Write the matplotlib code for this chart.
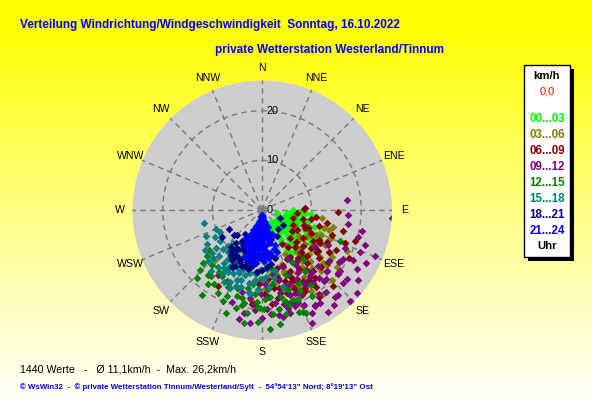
import numpy as np
import matplotlib
matplotlib.use("Agg")
import matplotlib.pyplot as plt
from matplotlib.patches import Rectangle

plt.rcParams['font.family'] = ['Liberation Sans', 'DejaVu Sans']

# ---------------- data ----------------
title_main = "Verteilung Windrichtung/Windgeschwindigkeit  Sonntag, 16.10.2022"
title_sub = "private Wetterstation Westerland/Tinnum"
footer_stats = "1440 Werte   -   Ø 11,1km/h  -  Max. 26,2km/h"
footer_copy = "© WsWin32  -  © private Wetterstation Tinnum/Westerland/Sylt  -  54°54'13\" Nord; 8°19'13\" Ost"

compass_labels = ["N", "NNE", "NE", "ENE", "E", "ESE", "SE", "SSE",
                  "S", "SSW", "SW", "WSW", "W", "WNW", "NW", "NNW"]
ring_values = [0, 10, 20]
r_max = 26.2

group_labels = ["00...03", "03...06", "06...09", "09...12",
                "12...15", "15...18", "18...21", "21...24"]
group_colors = ["#00FF00", "#808000", "#800000", "#800080",
                "#008000", "#008080", "#000080", "#0000FF"]

dir_00_03 = [90, 97, 109, 115, 121, 94, 102, 94, 100, 110, 120, 130, 140, 105, 115, 125, 135, 145, 150,
             100, 110, 118, 128, 138, 148, 125, 132, 117, 140, 155, 160, 108, 95, 112, 142, 160, 128,
             105, 113, 122, 133, 98, 118, 127, 137, 104, 145, 111, 124,
             98, 106, 114, 122, 131, 139, 147, 104, 116, 126, 136, 144, 120, 130, 112, 100, 93, 150, 165, 170]
spd_00_03 = [6.3, 8.3, 7.5, 9.6, 10.9, 6.3, 4.8, 8.7, 3, 3.5, 4, 3.5, 4.5, 5.5, 6, 6.5, 7, 6, 7.5,
             7, 9, 8, 8.5, 9, 9.5, 10, 11, 13.2, 12, 5, 8, 11, 10, 12.5, 3, 4, 5,
             6.8, 7.2, 7.8, 5.8, 5.5, 10.2, 4.5, 8, 9.5, 10.5, 5, 11.8,
             5, 6.5, 5, 5.5, 6, 5.5, 7, 8, 10, 7.5, 8, 10.5, 12, 9.5, 7, 5.8, 7.5, 4, 6, 9]

dir_03_06 = [97.5, 103.5, 107, 116, 122, 123, 131, 111.5, 130, 137, 156, 167, 187, 158, 158, 223,
             110, 115, 118, 125, 128, 133, 140, 145, 148, 150, 153, 160, 163, 170, 175, 140, 135,
             126, 120, 112, 145, 155, 165, 138, 143, 150, 128, 120, 160,
             113, 119, 124, 129, 134, 139, 146, 151, 154, 161, 166, 172, 178, 182, 142, 136, 131,
             117, 106, 149, 157, 163, 127, 144]
spd_03_06 = [12.2, 14.7, 14.1, 19, 16.2, 12.8, 16.3, 18, 17.2, 14.3, 13.7, 13.4, 18.3, 14.1, 19.2, 13.8,
             10, 12, 8, 9, 11, 13, 11, 14, 16, 12, 10, 11.5, 16, 15, 12, 18, 20,
             14, 10.5, 15, 8.5, 16.5, 10, 12, 15.5, 17.5, 13.5, 13, 13,
             13, 14.5, 17, 15, 11, 15.5, 12.5, 14.5, 17.5, 13.5, 17, 13, 16, 14, 13, 17, 9.5,
             11, 13, 19, 21, 19.5, 19, 21]

dir_06_09 = [89, 91.5, 104.5, 108.5, 101, 110, 87, 97, 210, 120, 115, 118, 122, 125, 128, 130, 133,
             136, 138, 140, 143, 145, 148, 150, 153, 155, 158, 162, 165, 168, 112, 106, 100, 95, 105,
             115, 125, 135, 145, 150, 170, 175, 160, 147, 130, 118, 123, 140, 133, 127, 137, 142, 152,
             157, 120, 113, 148,
             111, 116, 121, 126, 131, 134, 139, 144, 149, 151, 156, 159, 163, 167, 171, 174, 178, 182,
             186, 109, 103, 119, 128, 137, 146]
spd_06_09 = [8.5, 15.3, 16.9, 19.8, 13.4, 15, 8.7, 11, 17.6, 8.1, 11, 13, 16, 10, 12.5, 15, 18,
             13, 10, 16, 12, 19, 14, 16.5, 11, 13.5, 17, 15, 12, 16, 18, 12, 10, 7, 6.5,
             7, 7.5, 8, 9, 8, 18, 14, 20, 21, 20, 17, 19, 14, 9.5, 14, 11.5, 17.5, 18.5,
             15.5, 13.5, 9.5, 12.5,
             10, 14.5, 12, 14, 11, 16.5, 12.5, 15, 11, 18, 15, 12, 17.5, 14, 16, 19, 17, 15,
             19, 9, 8.5, 20, 17, 21, 17]

dir_09_12 = [83, 93.5, 93, 99, 106, 109, 113, 114.6, 119, 121, 124, 102, 136, 128, 151, 171, 165, 198,
             214, 131, 136, 130, 151, 165, 175, 180, 184, 145, 150, 155, 160, 148, 152, 158, 162, 140,
             142, 135, 138, 146, 168, 172, 176, 156, 132, 127, 118, 125, 160, 166, 154, 143, 188, 178,
             170, 149, 153, 157, 163, 144, 139, 159, 147,
             150, 154, 158, 161, 164, 167, 169, 173, 177, 181, 185, 190, 194, 145, 141, 137, 133, 129,
             126, 122, 117, 112, 140, 148, 147, 192, 186, 156]
spd_09_12 = [17.3, 26.2, 17.4, 17.6, 20.1, 21.9, 21.5, 18.4, 20.9, 19.1, 18.8, 20.7, 25.4, 20, 21.9, 21.4, 20.4, 19.5,
             15.8, 25.5, 25.7, 19.9, 22.1, 21.5, 21, 21.8, 20.2, 15, 17, 19, 16, 13, 11, 14, 18, 18,
             21, 16, 23, 20.5, 17, 19, 17.5, 21, 22, 17, 15, 13, 12, 14.5, 23, 24, 18, 15,
             13, 17.5, 15.5, 18, 19.5, 16.5, 19, 20, 12.5,
             14.5, 16, 18, 20.5, 16, 19.5, 22, 15.5, 20, 17, 19, 21, 17, 18, 16, 19, 18, 22,
             24, 22.5, 23.5, 24.5, 23, 22, 24.5, 22.5, 23, 25]

dir_12_15 = [226, 218, 215, 202, 193, 181, 171, 158, 164, 204, 196, 179, 170, 160, 157, 161, 112, 210,
             200, 190, 185, 175, 168, 165, 172, 180, 155, 150, 145, 160, 188, 195, 208, 213, 222, 230,
             150, 140, 170, 186, 176, 183, 198, 205, 166, 192,
             178, 183, 187, 191, 197, 203, 206, 211, 216, 220, 224, 174, 167, 162, 153, 147, 189, 199,
             176, 182, 158, 228, 233, 215]
spd_12_15 = [17.3, 16.8, 15.2, 18.6, 18.2, 19.8, 23.2, 22.2, 19.9, 17, 18, 20, 20.3, 21.9, 22.5, 19.2, 16.9, 14,
             15, 16, 17, 17.5, 18, 16, 15, 14, 18, 20, 15, 14, 21, 20.5, 19, 17.8, 15, 14.5,
             12, 13, 12, 12.5, 16, 18.5, 16.5, 16, 19, 19.5,
             18, 19.5, 15, 19, 16.5, 20, 16, 15.5, 18.5, 17, 19, 21, 21.5, 17, 16.5, 18, 23, 22,
             24, 22.5, 19.5, 16, 13.5, 21]

dir_15_18 = [257, 229, 226, 221, 225, 215, 210, 205, 200, 195, 190, 185, 180, 175, 205, 198, 212, 218,
             200, 190, 185, 195, 210, 175, 170, 165, 220, 230, 235, 240, 245, 188, 202, 215, 208, 183,
             195, 178, 192, 206, 186, 200, 214, 196, 181, 209,
             191, 197, 201, 204, 207, 211, 216, 219, 223, 227, 233, 238, 242, 186, 182, 177, 172, 168,
             194, 199, 189, 213, 224, 248]
spd_15_18 = [12, 13.3, 13.8, 8.9, 11, 12, 13, 14, 15, 16, 15, 13, 14, 15.5, 11, 12.5, 15, 14.5,
             10, 11, 9, 9.5, 9, 12, 14, 16, 16, 12, 14, 11, 12.5, 17, 17, 10, 16.5, 16,
             13.5, 10.5, 12, 12.5, 14.5, 13.5, 11.5, 10.5, 12, 14.2,
             13, 14.8, 13, 15.8, 12, 11.5, 13.2, 11, 12.8, 15, 10.5, 13, 9.5, 14.2, 12, 13.5, 11, 12.5,
             11.5, 16.3, 16.8, 14, 10, 10]

dir_18_21 = [240, 225, 236, 213, 220, 114, 125, 200, 205, 195, 210, 215, 200, 190, 212, 205, 218, 198,
             185, 208, 206, 192, 210, 214, 175, 165, 150, 140, 203, 196, 212, 188, 200, 217,
             207, 214, 191, 200, 197, 211, 196, 202, 193, 186, 180, 170, 208, 228, 203, 216]
spd_18_21 = [7.7, 7.1, 9.7, 7.4, 9.7, 4, 5.2, 8, 9, 10, 10.5, 11, 12, 11.5, 11.5, 6, 8.5, 7,
             12.5, 13, 12.5, 9, 7.8, 9.5, 11.5, 10, 6, 5, 10.8, 11, 9.2, 10.5, 9.5, 10.3,
             8.2, 9.8, 10.2, 9.3, 11.8, 11.8, 8.3, 7.2, 12.2, 10.8, 12, 11, 10.8, 7.5, 11.3, 6]

dir_21_24 = [180, 170, 190, 175, 185, 195, 165, 180, 170, 190, 200, 160, 178, 188, 168, 205, 196, 182,
             172, 158, 205, 190, 200, 178, 165, 207, 186, 195, 172, 205, 160, 182, 200, 190, 198, 175,
             198, 185, 168, 193, 200, 178, 188, 195, 204, 210, 160, 163,
             175, 185, 178, 182, 192, 174, 186, 198, 168, 180, 192, 203, 176, 186, 195, 182, 172,
             192, 196, 197, 170, 180, 188, 163,
             178, 186, 174, 195, 165, 200, 172, 206, 183, 162, 188, 203, 176, 198, 167, 184, 190, 180,
             170, 196, 186, 176, 201, 184]
spd_21_24 = [1, 1.5, 1.5, 2, 2, 2.5, 2.5, 3, 3.2, 3.3, 3.5, 3.6, 4, 4.2, 4.4, 4.5, 4.8, 5,
             5.2, 5.3, 5.5, 5.6, 6, 6.1, 6.3, 6.4, 6.6, 7, 7, 7.2, 7.4, 7.6, 7.8, 8, 8.3, 8.5,
             8.7, 9, 9.2, 9.5, 10, 10.3, 11, 9.8, 8, 6.5, 9, 6,
             1, 1.2, 2.5, 3.5, 4, 4.8, 5.3, 5.2, 5.8, 6.8, 6.3, 6.7, 8, 8.2, 8.8, 9.7, 9.8,
             10.5, 9.2, 8.5, 3.8, 4.5, 7.3, 8.2,
             1.8, 2.8, 2.8, 3.8, 3.2, 4.8, 5.5, 5.8, 5.8, 5, 3.1, 7, 7.2, 7.6, 6.8, 7, 9.2, 8.8,
             8.8, 10.2, 10, 9.2, 8, 4.4]

group_dirs = [dir_00_03, dir_03_06, dir_06_09, dir_09_12, dir_12_15, dir_15_18, dir_18_21, dir_21_24]
group_spds = [spd_00_03, spd_03_06, spd_06_09, spd_09_12, spd_12_15, spd_15_18, spd_18_21, spd_21_24]

# ---------------- figure ----------------
W, H = 592, 407
fig = plt.figure(figsize=(W / 100, H / 100), dpi=100)

# gradient background (yellow -> white, top to bottom)
bg = fig.add_axes([0, 0, 1, 1], zorder=0)
yy = np.linspace(0, 1, 400)
t = np.clip((yy - 0.08) / 0.92, 0, 1) ** 0.9
grad = np.ones((400, 2, 3))
grad[:, :, 2] = t[:, None]
bg.imshow(grad, aspect='auto', extent=[0, 1, 0, 1], origin='upper')
bg.set_xlim(0, 1)
bg.set_ylim(0, 1)
bg.axis('off')

def px(x, y):
    return x / W, 1 - y / H

# polar axes
cx, cy, R = 262, 210, 130
ax = fig.add_axes([(cx - R) / W, 1 - (cy + R) / H, 2 * R / W, 2 * R / H],
                  projection='polar', zorder=2)
ax.patch.set_alpha(0)
ax.set_theta_zero_location('N')
ax.set_theta_direction(-1)
ax.set_ylim(0, r_max)
ax.spines['polar'].set_visible(False)
ax.set_xticks(np.deg2rad(np.arange(0, 360, 22.5)))
ax.set_xticklabels([])
ax.set_yticks([10, 20])
ax.set_yticklabels([])
ax.grid(True, color='#7a7a7a', linestyle=(0, (4, 3)), linewidth=1.0)
ax.tick_params(length=0)
# grey disc
theta_full = np.linspace(0, 2 * np.pi, 400)
ax.fill_between(theta_full, 0, r_max, color='#CDCDCD', zorder=0.5, linewidth=0)

# compass labels
for i, lab in enumerate(compass_labels):
    ang = np.deg2rad(i * 22.5)
    ax.text(ang, r_max * 1.095, lab, ha='center', va='center', fontsize=7.6,
            color='black', clip_on=False)

# radial labels
for v in ring_values:
    ax.annotate(str(v), xy=(0, v), xytext=(3, 0), textcoords='offset points',
                ha='left', va='center', fontsize=7.8, color='black', zorder=5)

# scatter points
for dirs, spds, col in zip(group_dirs, group_spds, group_colors):
    ax.scatter(np.deg2rad(dirs), spds, marker='D', s=15, c=col, linewidths=0, zorder=3)

# titles
fig.text(*px(20, 25), title_main, color='#0000FF', fontsize=8.45, fontweight='bold',
         ha='left', va='center', zorder=5)
fig.text(*px(215, 50), title_sub, color='#0000FF', fontsize=8.45, fontweight='bold',
         ha='left', va='center', zorder=5)

# footer
fig.text(*px(20, 369), footer_stats, color='black', fontsize=7.7, ha='left', va='center', zorder=5)
fig.text(*px(20, 387), footer_copy, color='#0000FF', fontsize=5.7, fontweight='bold',
         ha='left', va='center', zorder=5)

# legend box with shadow
lx0, lx1, ly0, ly1 = 524, 570, 65, 257
fig.patches.append(Rectangle(px(lx0 + 4, ly1 + 4), (lx1 - lx0) / W, (ly1 - ly0) / H,
                             transform=fig.transFigure, facecolor='black', edgecolor='none', zorder=3))
fig.patches.append(Rectangle(px(lx0, ly1), (lx1 - lx0) / W, (ly1 - ly0) / H,
                             transform=fig.transFigure, facecolor='white', edgecolor='black',
                             linewidth=1.0, zorder=4))
lcx = 547
fig.text(*px(lcx, 76), "km/h", color='black', fontsize=8.2, fontweight='bold', ha='center', va='center', zorder=6)
fig.text(*px(lcx, 92), "0,0", color='#FF0000', fontsize=8.0, ha='center', va='center', zorder=6)
leg_y = [119, 135, 151, 167, 183, 199, 215, 231]
for lab, col, y in zip(group_labels, group_colors, leg_y):
    fig.text(*px(lcx, y), lab, color=col, fontsize=8.3, fontweight='bold', ha='center', va='center', zorder=6)
fig.text(*px(lcx, 246), "Uhr", color='black', fontsize=8.2, fontweight='bold', ha='center', va='center', zorder=6)

fig.savefig("out.png", dpi=100)
